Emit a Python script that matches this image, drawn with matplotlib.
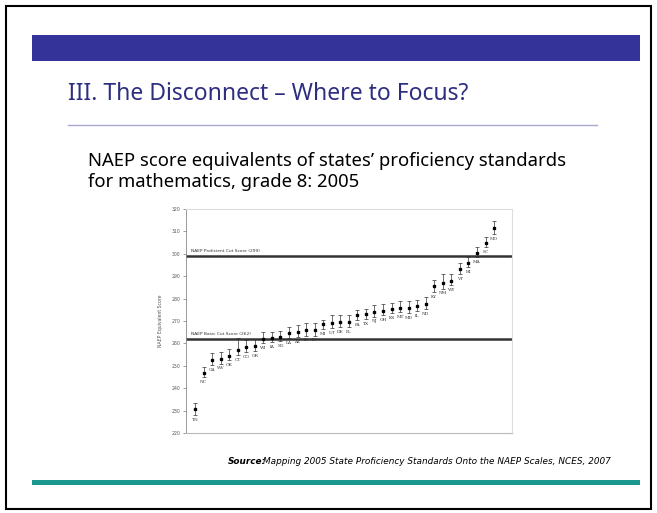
import matplotlib.pyplot as plt
from matplotlib.patches import Rectangle

# states ordered by NAEP equivalent score, grade 8 mathematics 2005
states = ["TN", "NC", "GA", "WV", "OK", "CT", "CO", "OR", "WI", "IA",
          "SD", "LA", "AZ", "ID", "IN", "MI", "UT", "DE", "FL", "PA",
          "TX", "NJ", "OH", "KS", "MT", "MD", "IL", "ND", "KY", "NM",
          "WY", "VT", "HI", "MA", "SC", "MO"]
scores = [230.5, 247, 252.5, 253, 254.5, 257, 258.5, 259, 262, 262.5,
          263, 264.5, 265, 266, 266, 268.5, 269, 269.5, 269.5, 272.5,
          273, 274, 274.5, 275.5, 276, 276, 276.5, 277.5, 285.5, 287,
          288, 293, 296, 300.5, 305, 311.5]
err_low = [2.5, 2, 2, 2, 2, 2, 2.5, 2.5, 2, 2,
           2, 2, 2, 2.5, 2.5, 2, 2, 2, 2, 2,
           2, 2, 2, 2, 2, 2.5, 2, 2, 2.5, 2.5,
           2, 2, 2, 2, 2, 2.5]
err_high = [3, 2.5, 3, 3, 3, 5.5, 3, 3, 3, 2.5,
            2.5, 3, 3, 3, 3, 2, 3.5, 3, 3, 2.5,
            2.5, 3, 3, 2.5, 3, 3, 3, 3, 3, 4,
            3, 3, 2.5, 2.5, 2.5, 3]
yticks = [220, 230, 240, 250, 260, 270, 280, 290, 300, 310, 320]
proficient_cut = 299
basic_cut = 262

W, H = 657, 513
fig = plt.figure(figsize=(W / 100, H / 100), dpi=100)

# slide background drawn in pixel coordinates
bg = fig.add_axes([0, 0, 1, 1])
bg.set_xlim(0, W)
bg.set_ylim(H, 0)
bg.axis("off")
bg.add_patch(Rectangle((6, 6), 645, 503, fill=False, ec="black", lw=1.5))
bg.add_patch(Rectangle((32, 35), 608, 26, fc="#333399", ec="none"))
bg.add_patch(Rectangle((32, 480), 608, 5, fc="#1a9890", ec="none"))
bg.plot([68, 597], [125, 125], color="#a8a8d0", lw=1)
bg.text(68, 94, "III. The Disconnect \u2013 Where to Focus?", fontsize=16.5,
        family="Noto Sans", color="#2e2e80", va="center", ha="left")
bg.text(88, 161, "NAEP score equivalents of states\u2019 proficiency standards",
        fontsize=13.3, family="Noto Sans", color="black", va="center")
bg.text(88, 182, "for mathematics, grade 8: 2005",
        fontsize=13.3, family="Noto Sans", color="black", va="center")
bg.text(228, 461, "Source:", fontsize=6.4, style="italic", weight="bold",
        va="center")
bg.text(263, 461, "Mapping 2005 State Proficiency Standards Onto the NAEP Scales, NCES, 2007",
        fontsize=6.4, style="italic", va="center")

# chart
ax = fig.add_axes([186 / W, 1 - 433 / H, (512 - 186) / W, (433 - 209) / H])
x = list(range(len(states)))
ax.errorbar(x, scores, yerr=[err_low, err_high], fmt="s", color="black",
            ms=1.8, elinewidth=0.5, capsize=1.2, capthick=0.5, ecolor="#333333")
for xi, s, lo, name in zip(x, scores, err_low, states):
    ax.text(xi, s - lo - 2.2, name, fontsize=3.2, ha="center", va="center",
            family="DejaVu Serif", color="#333333")

ax.axhline(proficient_cut, color="#333333", lw=1.8)
ax.axhline(basic_cut, color="#333333", lw=1.8)
ax.text(-0.5, proficient_cut + 1.5, "NAEP Proficient Cut Score (299)",
        fontsize=3.2, va="bottom", ha="left", color="#333333")
ax.text(-0.5, basic_cut + 1.5, "NAEP Basic Cut Score (262)",
        fontsize=3.2, va="bottom", ha="left", color="#333333")

ax.set_xlim(-1.05, 37.1)
ax.set_ylim(220, 320)
ax.set_yticks(yticks)
ax.set_yticklabels([str(t) for t in yticks], fontsize=3.3, color="#555555")
ax.set_xticks([])
ax.tick_params(axis="y", length=2, width=0.5, color="#777777", pad=2)
ax.set_ylabel("NAEP Equivalent Score", fontsize=3.3, color="#555555", labelpad=6)
for side in ["top", "right"]:
    ax.spines[side].set_color("#dddddd")
    ax.spines[side].set_linewidth(0.8)
ax.spines["left"].set_color("#888888")
ax.spines["left"].set_linewidth(0.6)
ax.spines["bottom"].set_color("#bbbbbb")
ax.spines["bottom"].set_linewidth(0.8)

fig.savefig("out.png", dpi=100)
